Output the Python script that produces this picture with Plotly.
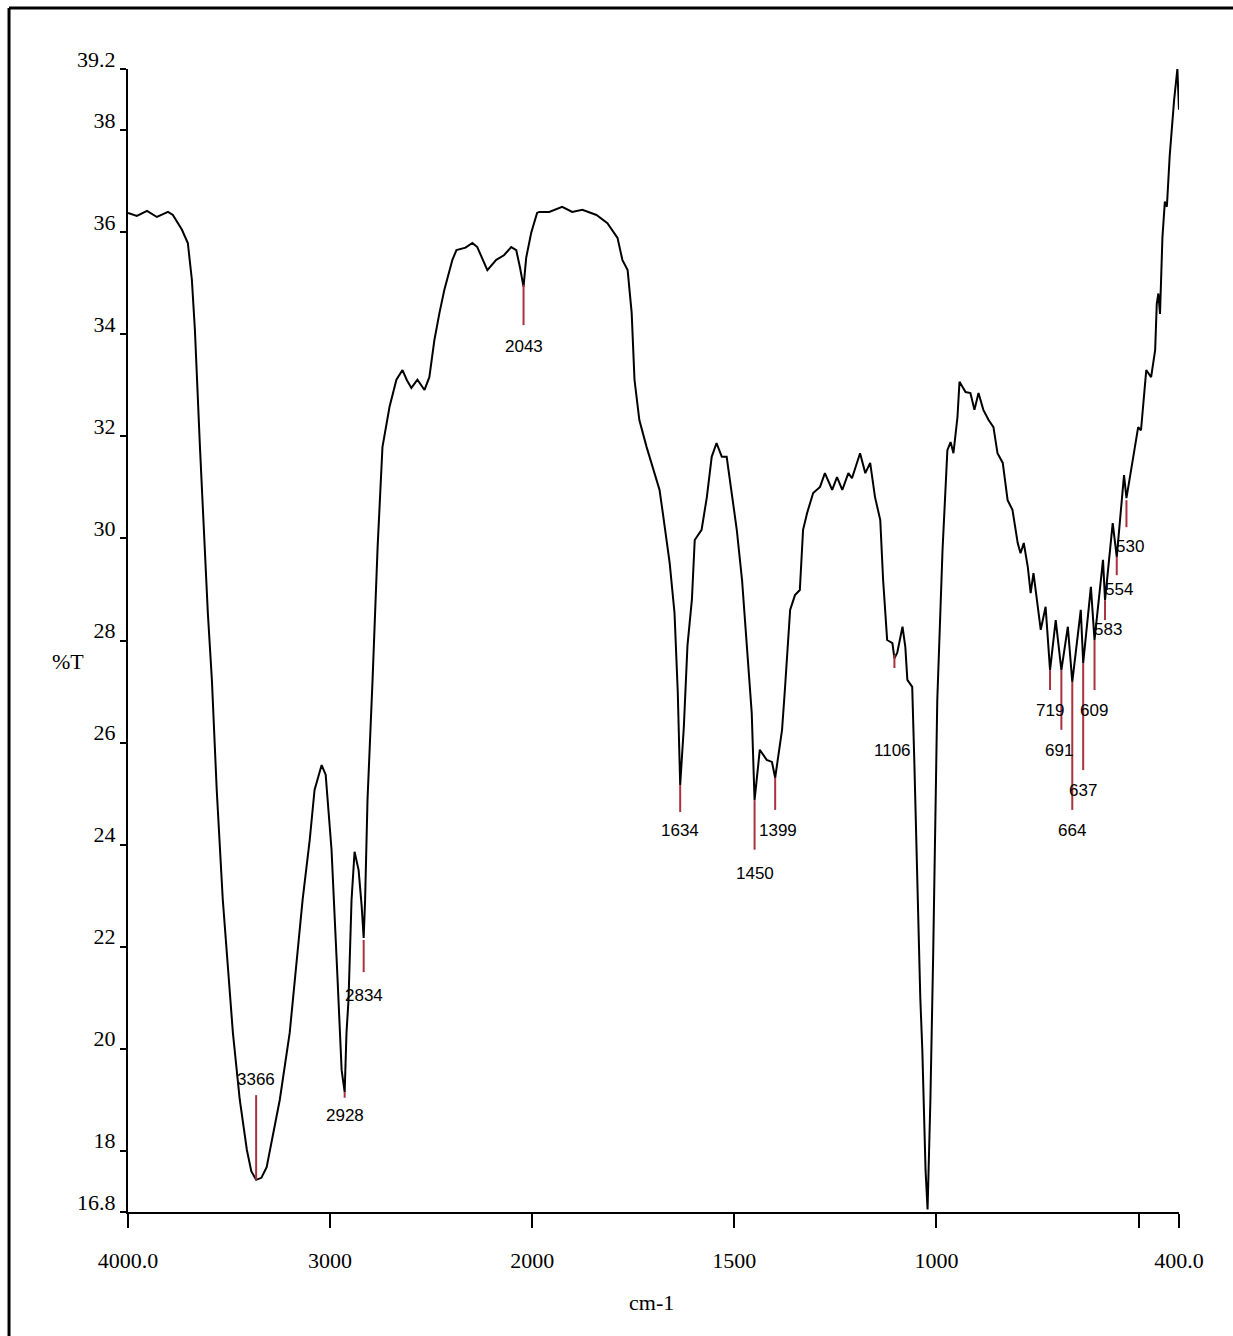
import plotly.graph_objects as go

# ---------------- data ----------------
wavenumber = [
    4000, 3956, 3906, 3857, 3802, 3778, 3733, 3704, 3684, 3669, 3644, 3620, 3605, 3585,
    3561, 3531, 3481, 3447, 3412, 3390, 3366, 3340, 3314, 3249, 3200, 3136, 3101, 3077,
    3062, 3042, 3022, 2993, 2963, 2943, 2928, 2919, 2909, 2894, 2879, 2859, 2844, 2834,
    2827, 2815, 2790, 2765, 2741, 2706, 2672, 2642, 2620, 2598, 2568, 2533, 2509, 2484,
    2459, 2435, 2395, 2375, 2330, 2296, 2272, 2222, 2178, 2140, 2104, 2079, 2060, 2043,
    2030, 2005, 1988, 1983, 1958, 1926, 1901, 1876, 1841, 1814, 1789, 1777, 1764, 1754,
    1747, 1735, 1717, 1697, 1685, 1677, 1660, 1648, 1640, 1634, 1625, 1616, 1605, 1598,
    1581, 1568, 1556, 1544, 1531, 1519, 1511, 1494, 1481, 1469, 1457, 1450, 1437, 1420,
    1407, 1399, 1382, 1375, 1362, 1350, 1338, 1330, 1320, 1305, 1288, 1276, 1258, 1246,
    1233, 1218, 1209, 1189, 1176, 1164, 1152, 1139, 1132, 1122, 1109, 1104, 1097, 1084,
    1077, 1072, 1060, 1055, 1047, 1040, 1035, 1027, 1022, 1015, 1008, 998, 985, 973,
    965, 958, 948, 943, 928, 916, 906, 896, 884, 871, 859, 849, 836, 824, 812, 799,
    792, 784, 774, 767, 760, 750, 742, 730, 719, 705, 691, 675, 664, 643, 637, 618,
    609, 588, 583, 564, 554, 536, 530, 501, 494, 481, 469, 459, 455, 451, 447, 441,
    435, 430, 423, 412, 404, 400,
]
transmittance = [
    36.38, 36.32, 36.42, 36.30, 36.40, 36.34, 36.05, 35.79, 35.07, 34.09, 31.79, 29.83, 28.54, 27.23,
    25.07, 22.92, 20.31, 19.00, 18.02, 17.60, 17.43, 17.47, 17.68, 19.00, 20.31, 22.92, 24.09, 25.07,
    25.27, 25.56, 25.37, 23.90, 21.35, 19.58, 19.15, 20.31, 20.96, 22.92, 23.86, 23.50, 22.80, 22.17,
    22.90, 24.88, 27.23, 29.83, 31.79, 32.58, 33.11, 33.30, 33.10, 32.95, 33.11, 32.91, 33.16, 33.89,
    34.42, 34.87, 35.46, 35.65, 35.70, 35.79, 35.71, 35.26, 35.46, 35.55, 35.71, 35.65, 35.30, 34.93,
    35.50, 35.99, 36.38, 36.40, 36.40, 36.50, 36.40, 36.44, 36.34, 36.18, 35.89, 35.46, 35.26, 34.42,
    33.11, 32.32, 31.79, 31.28, 30.95, 30.50, 29.52, 28.54, 27.00, 25.17, 26.30, 27.90, 28.80, 29.97,
    30.17, 30.81, 31.60, 31.87, 31.60, 31.60, 31.15, 30.17, 29.19, 27.87, 26.58, 24.87, 25.86, 25.66,
    25.62, 25.31, 26.25, 27.03, 28.60, 28.89, 28.99, 30.17, 30.50, 30.89, 31.01, 31.28, 30.95, 31.20,
    30.95, 31.28, 31.18, 31.67, 31.28, 31.48, 30.81, 30.36, 29.19, 28.01, 27.95, 27.65, 27.76, 28.27,
    27.87, 27.23, 27.09, 25.70, 22.90, 21.00, 19.98, 17.62, 16.85, 19.00, 21.90, 26.83, 29.77, 31.73,
    31.89, 31.67, 32.38, 33.07, 32.87, 32.85, 32.52, 32.85, 32.52, 32.32, 32.18, 31.67, 31.48, 30.75, 30.56, 29.91,
    29.71, 29.91, 29.44, 28.93, 29.32, 28.74, 28.21, 28.66, 27.42, 28.40, 27.42, 28.27, 27.19, 28.60, 27.56, 29.05,
    28.01, 29.58, 28.79, 30.30, 29.64, 31.24, 30.79, 32.18, 32.12, 33.30, 33.16, 33.69, 34.60, 34.80, 34.40, 35.90,
    36.60, 36.50, 37.50, 38.60, 39.20, 38.40,
]

peak_labels = ["3366", "2928", "2834", "2043", "1634", "1450", "1399", "1106",
               "719", "691", "664", "637", "609", "583", "554", "530"]
peak_wn = [3366, 2928, 2834, 2043, 1634, 1450, 1399, 1104,
           719, 691, 664, 637, 609, 583, 554, 530]

x_tick_values = [4000, 3000, 2000, 1500, 1000, 500, 400]
x_tick_text = ["4000.0", "3000", "2000", "1500", "1000", "", "400.0"]
y_tick_values = [16.8, 18, 20, 22, 24, 26, 28, 30, 32, 34, 36, 38, 39.2]
y_tick_text = ["16.8", "18", "20", "22", "24", "26", "28", "30", "32", "34", "36", "38", "39.2"]

# ------------- layout of peak markers (line start, line end, label y, label x shift px) -------------
peak_layout = [
    (17.43, 19.09, 19.39, 0),
    (19.15, 19.04, 18.70, 0),
    (22.13, 21.50, 21.05, 0),
    (34.97, 34.18, 33.77, 0),
    (25.17, 24.64, 24.27, 0),
    (24.87, 23.90, 23.44, 0),
    (25.31, 24.68, 24.27, 3),
    (27.72, 27.46, 25.85, -2),
    (27.42, 27.03, 26.62, 0),
    (27.42, 26.25, 25.85, -2),
    (27.19, 24.68, 24.27, 0),
    (27.56, 25.46, 25.07, 0),
    (28.01, 27.03, 26.62, -1),
    (28.79, 28.40, 28.21, 3),
    (29.64, 29.28, 28.99, 2),
    (30.75, 30.22, 29.85, 4),
]


def xt(w):
    # two-scale IR abscissa: 4000-2000 compressed by 2x relative to 2000-400
    return w if w <= 2000 else 2000 + (w - 2000) / 2.0


fig = go.Figure()
fig.add_trace(go.Scatter(
    x=[xt(w) for w in wavenumber], y=transmittance, mode="lines",
    line=dict(color="black", width=2), showlegend=False, hoverinfo="skip",
))

RED = "#a8323e"
label_font = dict(family="Liberation Sans Narrow, Arial Narrow, Liberation Sans", size=17, color="black")
for lab, w, (y0, y1, ylab, dx) in zip(peak_labels, peak_wn, peak_layout):
    fig.add_shape(type="line", xref="x", yref="y", x0=xt(w), x1=xt(w), y0=y0, y1=y1,
                  line=dict(color=RED, width=2))
    fig.add_annotation(x=xt(w), y=ylab, xref="x", yref="y", text=lab, showarrow=False,
                       xanchor="center", yanchor="middle", xshift=dx, font=label_font)

serif = "Liberation Serif, Times New Roman, serif"

# axis titles
fig.add_annotation(x=-0.057, y=0.482, xref="paper", yref="paper", text="%T", showarrow=False,
                   font=dict(family=serif, size=22, color="black"), xanchor="center", yanchor="middle")
fig.add_annotation(x=0.498, y=-0.0796, xref="paper", yref="paper", text="cm-1", showarrow=False,
                   font=dict(family=serif, size=22, color="black"), xanchor="center", yanchor="middle")

# outer frame (left and top edges)
fig.add_shape(type="line", xref="paper", yref="paper", x0=-0.1132, x1=-0.1132, y0=-0.12, y1=1.0534,
              line=dict(color="black", width=3))
fig.add_shape(type="line", xref="paper", yref="paper", x0=-0.1132, x1=1.06, y0=1.0534, y1=1.0534,
              line=dict(color="black", width=3))

fig.update_xaxes(
    range=[xt(4000), xt(400)], tickmode="array",
    tickvals=[xt(v) for v in x_tick_values], ticktext=x_tick_text,
    showgrid=False, zeroline=False, showline=True, linecolor="black", linewidth=2,
    ticks="outside", ticklen=14, tickwidth=2, tickcolor="black",
    tickfont=dict(family=serif, size=22, color="black"), ticklabelstandoff=14,
)
fig.update_yaxes(
    range=[16.8, 39.2], tickmode="array", tickvals=y_tick_values, ticktext=y_tick_text,
    showgrid=False, zeroline=False, showline=True, linecolor="black", linewidth=2,
    ticks="outside", ticklen=6, tickwidth=2, tickcolor="black",
    tickfont=dict(family=serif, size=22, color="black"), ticklabelshift=-10,
)
fig.update_layout(
    width=1233, height=1336, autosize=False,
    margin=dict(l=128, r=54, t=69, b=124),
    paper_bgcolor="white", plot_bgcolor="white",
    showlegend=False,
)

fig.write_html("out.html")
